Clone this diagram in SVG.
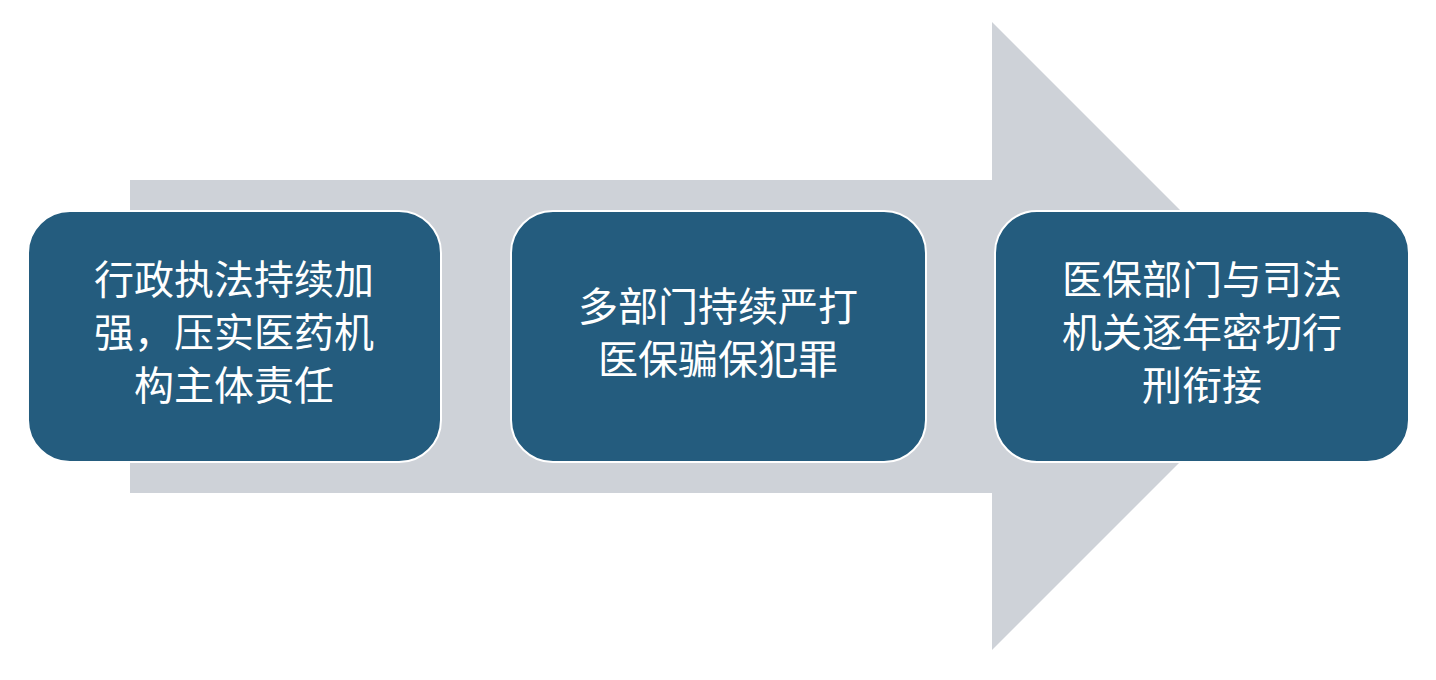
<svg xmlns="http://www.w3.org/2000/svg" width="1436" height="680" viewBox="0 0 1436 680">
<style>
.box{fill:#245C7E;stroke:#fff;stroke-width:2}
.t{fill:#fff;font-family:"Liberation Serif","Noto Sans CJK SC",serif;font-size:40px;text-anchor:middle}
</style>
<rect width="1436" height="680" fill="#fff"/>
<g id="connectors">
<polygon points="130,180 992,180 992,22 1306,336 992,650 992,493 130,493" fill="#CED2D8"/>
</g>
<g id="n1">
<rect class="box" x="28" y="211" width="413" height="251" rx="42"/>
<text class="t" x="234" y="294">行政执法持续加</text>
<text class="t" x="234" y="347">强，压实医药机</text>
<text class="t" x="234" y="400">构主体责任</text>
</g>
<g id="n2">
<rect class="box" x="511" y="211" width="415" height="251" rx="42"/>
<text class="t" x="718" y="321">多部门持续严打</text>
<text class="t" x="718" y="374">医保骗保犯罪</text>
</g>
<g id="n3">
<rect class="box" x="995" y="211" width="414" height="251" rx="42"/>
<text class="t" x="1202" y="294">医保部门与司法</text>
<text class="t" x="1202" y="347">机关逐年密切行</text>
<text class="t" x="1202" y="400">刑衔接</text>
</g>
</svg>
